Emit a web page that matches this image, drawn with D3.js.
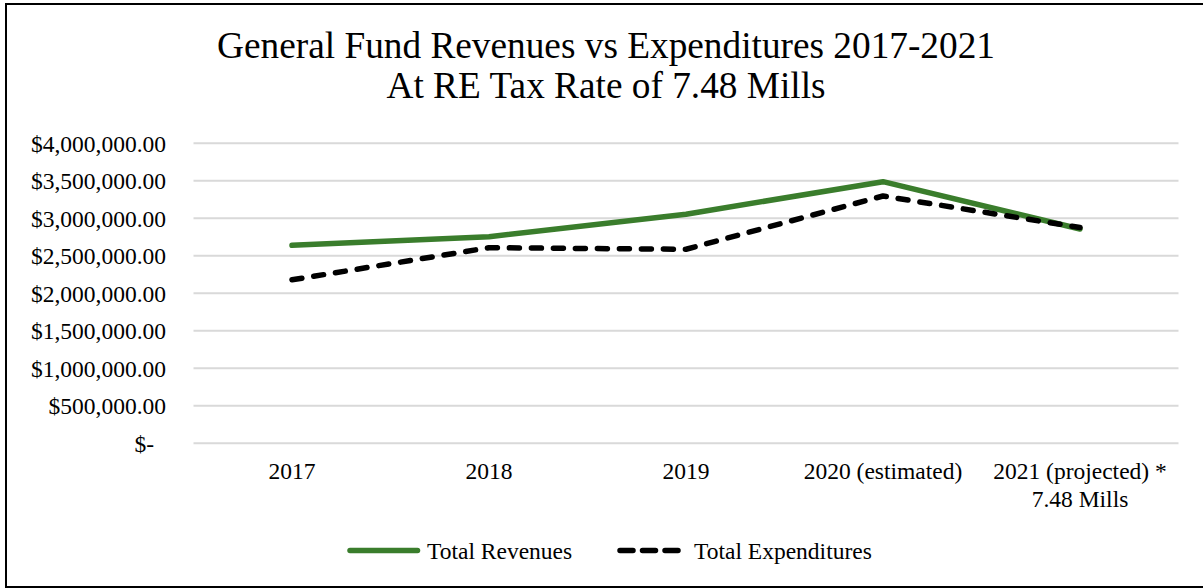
<!DOCTYPE html>
<html>
<head>
<meta charset="utf-8">
<script src="https://cdn.jsdelivr.net/npm/d3@7"></script>
<style>
  html, body { margin: 0; padding: 0; background: #fff; }
  svg { display: block; }
  text { font-family: "Times New Roman", "Liberation Serif", serif; fill: #000; }
</style>
</head>
<body>
<script>
// ---- data ----
const titleLines = ["General Fund Revenues vs Expenditures 2017-2021", "At RE Tax Rate of 7.48 Mills"];
const categories = ["2017", "2018", "2019", "2020 (estimated)", "2021 (projected) *|7.48 Mills"];
const revenues = [2640000, 2755000, 3055000, 3488000, 2857000];
const expenditures = [2180000, 2608000, 2587000, 3297000, 2877000];
const yTicks = [0, 500000, 1000000, 1500000, 2000000, 2500000, 3000000, 3500000, 4000000];
const yTickLabels = ["$-", "$500,000.00", "$1,000,000.00", "$1,500,000.00", "$2,000,000.00", "$2,500,000.00", "$3,000,000.00", "$3,500,000.00", "$4,000,000.00"];
const seriesNames = ["Total Revenues", "Total Expenditures"];

const W = 1203, H = 588;
const green = "#3a7d2c";

const svg = d3.select("body").append("svg").attr("width", W).attr("height", H);

// outer border
svg.append("rect").attr("x", 6).attr("y", 4).attr("width", 1220).attr("height", 583)
  .attr("fill", "none").attr("stroke", "#000").attr("stroke-width", 2);

// title
svg.selectAll("text.title").data(titleLines).enter().append("text")
  .attr("class", "title")
  .attr("x", 606).attr("y", (d, i) => 58 + i * 40)
  .attr("text-anchor", "middle")
  .style("font-size", "37.3px")
  .text(d => d);

const x = d3.scaleBand().domain(categories).range([193.5, 1178.5]);
const y = d3.scaleLinear().domain([0, 4000000]).range([443.3, 143.3]);
const cx = c => x(c) + x.bandwidth() / 2;

// gridlines
svg.append("g").selectAll("line").data(yTicks).enter().append("line")
  .attr("x1", 193.5).attr("x2", 1178.5)
  .attr("y1", d => y(d)).attr("y2", d => y(d))
  .attr("stroke", "#d9d9d9").attr("stroke-width", 2);

// y axis labels
const yAxis = d3.axisLeft(y).tickValues(yTicks)
  .tickFormat((d, i) => yTickLabels[i]).tickSize(0).tickPadding(0);
const gy = svg.append("g").attr("transform", "translate(166,0)").call(yAxis);
gy.select(".domain").remove();
gy.selectAll("text")
  .attr("font-family", null)
  .style("font-size", "23.5px")
  .attr("dy", "0.34em")
  .attr("dx", d => d === 0 ? -12 : 0);

// x axis labels
const gx = svg.append("g");
categories.forEach(c => {
  const lines = c.split("|");
  const t = gx.append("text").attr("text-anchor", "middle").style("font-size", "23.5px");
  lines.forEach((ln, i) => {
    t.append("tspan").attr("x", cx(c)).attr("y", 479 + i * 28).text(ln);
  });
});

// lines
const line = d3.line().x((d, i) => cx(categories[i])).y(d => y(d));
svg.append("path").datum(revenues).attr("d", line)
  .attr("fill", "none").attr("stroke", green).attr("stroke-width", 5.5)
  .attr("stroke-linecap", "round").attr("stroke-linejoin", "round");
svg.append("path").datum(expenditures).attr("d", line)
  .attr("fill", "none").attr("stroke", "#000").attr("stroke-width", 5.5)
  .attr("stroke-dasharray", "10,12")
  .attr("stroke-linecap", "round").attr("stroke-linejoin", "round");

// legend
const lg = svg.append("g");
lg.append("line").attr("x1", 350).attr("x2", 417.5).attr("y1", 550.5).attr("y2", 550.5)
  .attr("stroke", green).attr("stroke-width", 5.5).attr("stroke-linecap", "round");
lg.append("text").attr("x", 427).attr("y", 558.5).style("font-size", "23.5px").text(seriesNames[0]);
lg.append("line").attr("x1", 620).attr("x2", 678).attr("y1", 550.5).attr("y2", 550.5)
  .attr("stroke", "#000").attr("stroke-width", 5.5).attr("stroke-linecap", "round")
  .attr("stroke-dasharray", "13,9.5");
lg.append("text").attr("x", 694).attr("y", 558.5).style("font-size", "23.5px").text(seriesNames[1]);
</script>
</body>
</html>
